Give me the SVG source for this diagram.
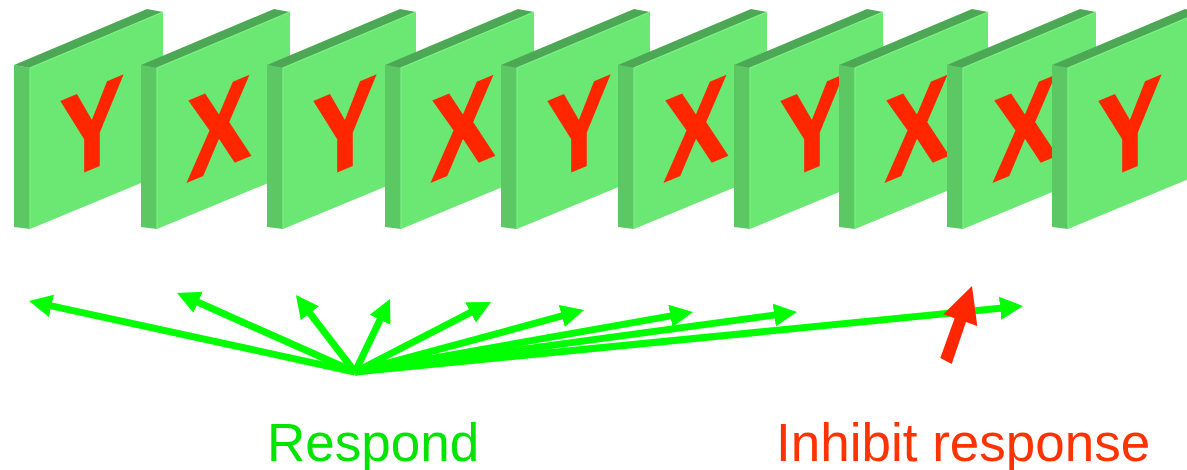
<svg xmlns="http://www.w3.org/2000/svg" width="1187" height="470" viewBox="0 0 1187 470">
<style>
.front{fill:#6BE873}
.side{fill:#5CC864}
.top{fill:#4CA854}
.edge{stroke:#7CF084;stroke-width:1.2;fill:none}
.letter{font-family:"Liberation Sans",Arial,sans-serif;font-weight:bold;font-size:115px;fill:#FF2600;stroke:#FF2600;stroke-width:2.5;stroke-linejoin:miter;text-anchor:middle}
.resp{stroke:#00FF00;stroke-width:7;fill:none;marker-end:url(#gh)}
.lbl{font-family:"Liberation Sans",Arial,sans-serif;font-size:53px}
</style>
<defs>
<marker id="gh" markerUnits="userSpaceOnUse" markerWidth="24" markerHeight="24" viewBox="0 0 24 24" refX="5" refY="12" orient="auto">
<path d="M0,0.5 L23,12 L0,23.5 z" fill="#00FF00"/>
</marker>
<g id="card">
<polygon class="side" points="0,65 16,68 16,229 0,227"/>
<polygon class="top" points="0,65 133,9 149,12 16,68"/>
<polygon class="front" points="16,68 149,12 149,174 16,229"/>
<polyline class="edge" points="16,229 16,68 149,12"/>
</g>
</defs>
<g id="card1" transform="translate(14,0)"><use href="#card"/><text class="letter" transform="matrix(1,-0.42,0,1,78,168) scale(0.82,1)">Y</text></g>
<g id="card2" transform="translate(141,0)"><use href="#card"/><text class="letter" transform="matrix(1,-0.42,0,1,78,168) scale(0.82,1)">X</text></g>
<g id="card3" transform="translate(267,0)"><use href="#card"/><text class="letter" transform="matrix(1,-0.42,0,1,78,168) scale(0.82,1)">Y</text></g>
<g id="card4" transform="translate(385,0)"><use href="#card"/><text class="letter" transform="matrix(1,-0.42,0,1,78,168) scale(0.82,1)">X</text></g>
<g id="card5" transform="translate(501,0)"><use href="#card"/><text class="letter" transform="matrix(1,-0.42,0,1,78,168) scale(0.82,1)">Y</text></g>
<g id="card6" transform="translate(618,0)"><use href="#card"/><text class="letter" transform="matrix(1,-0.42,0,1,78,168) scale(0.82,1)">X</text></g>
<g id="card7" transform="translate(734,0)"><use href="#card"/><text class="letter" transform="matrix(1,-0.42,0,1,78,168) scale(0.82,1)">Y</text></g>
<g id="card8" transform="translate(839,0)"><use href="#card"/><text class="letter" transform="matrix(1,-0.42,0,1,78,168) scale(0.82,1)">X</text></g>
<g id="card9" transform="translate(947,0)"><use href="#card"/><text class="letter" transform="matrix(1,-0.42,0,1,78,168) scale(0.82,1)">X</text></g>
<g id="card10" transform="translate(1052,0)"><use href="#card"/><text class="letter" transform="matrix(1,-0.42,0,1,78,168) scale(0.82,1)">Y</text></g>
<g id="connectors">
<line class="resp" x1="355" y1="372" x2="46.6" y2="304.8"/>
<line class="resp" x1="355" y1="372" x2="193.5" y2="300.3"/>
<line class="resp" x1="355" y1="372" x2="306.9" y2="309.3"/>
<line class="resp" x1="355" y1="372" x2="382.2" y2="315.2"/>
<line class="resp" x1="355" y1="372" x2="475" y2="310.2"/>
<line class="resp" x1="355" y1="372" x2="566.6" y2="314.7"/>
<line class="resp" x1="355" y1="372" x2="675.3" y2="315.1"/>
<line class="resp" x1="355" y1="372" x2="779.2" y2="314.4"/>
<line class="resp" x1="355" y1="372" x2="1005.1" y2="307.8"/>
<polygon id="inhibit-arrow" fill="#FF2600" points="940.3,358.1 954.6,318.2 943.3,314.3 972,286 977.3,325.9 966,322 951.7,363.9"/>
</g>
<text id="respond" class="lbl" x="267" y="461" fill="#00E400">Respond</text>
<text id="inhibit" class="lbl" x="776" y="461" fill="#FF3300">Inhibit response</text>
</svg>
